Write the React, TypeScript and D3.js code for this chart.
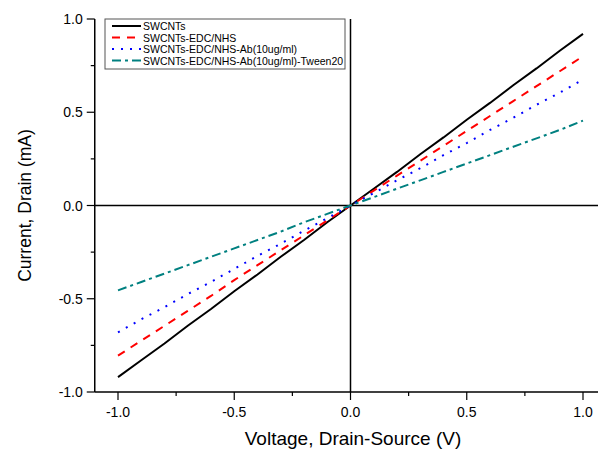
import React from "react";
import * as d3 from "d3";

const voltage = [-1.0, -0.9, -0.8, -0.7, -0.6, -0.5, -0.4, -0.3, -0.2, -0.1, 0, 0.1, 0.2, 0.3, 0.4, 0.5, 0.6, 0.7, 0.8, 0.9, 1.0];
const swcnts = [-0.92, -0.83, -0.74, -0.645, -0.555, -0.46, -0.37, -0.275, -0.185, -0.09, 0, 0.09, 0.18, 0.275, 0.365, 0.46, 0.55, 0.645, 0.735, 0.83, 0.92];
const edcNhs = [-0.805, -0.725, -0.645, -0.565, -0.485, -0.4, -0.32, -0.24, -0.16, -0.08, 0, 0.08, 0.16, 0.24, 0.32, 0.4, 0.48, 0.56, 0.64, 0.72, 0.8];
const ab = [-0.68, -0.61, -0.545, -0.475, -0.41, -0.34, -0.27, -0.205, -0.135, -0.068, 0, 0.067, 0.135, 0.2, 0.27, 0.335, 0.405, 0.47, 0.54, 0.605, 0.675];
const tween = [-0.455, -0.41, -0.365, -0.32, -0.275, -0.23, -0.185, -0.14, -0.09, -0.045, 0, 0.045, 0.09, 0.135, 0.18, 0.225, 0.27, 0.315, 0.36, 0.405, 0.455];
const seriesNames = ["SWCNTs", "SWCNTs-EDC/NHS", "SWCNTs-EDC/NHS-Ab(10ug/ml)", "SWCNTs-EDC/NHS-Ab(10ug/ml)-Tween20"];
const xTicks = [-1.0, -0.5, 0.0, 0.5, 1.0];
const yTicks = [-1.0, -0.5, 0.0, 0.5, 1.0];
const minorTicks = [-0.75, -0.25, 0.25, 0.75];

const styles = [
  { color: "#000000", dash: "none", width: 2 },
  { color: "#ff0000", dash: "8,7", width: 2 },
  { color: "#0000ff", dash: "2,7", width: 2 },
  { color: "#008080", dash: "9,4,3,4", width: 2 },
];

export default function App() {
  const W = 598, H = 450;
  const x = d3.scaleLinear().domain([-1.0, 1.0]).range([118, 583]);
  const y = d3.scaleLinear().domain([-1.0, 1.0]).range([392, 19]);
  const xLeft = x(-1.1);
  const xRight = x(1.1);
  const line = d3.line<number>().x((_, i) => x(voltage[i])).y((d) => y(d));
  const all = [swcnts, edcNhs, ab, tween];
  const font = "Arial, 'Liberation Sans', sans-serif";

  return (
    <svg width={W} height={H} style={{ position: "absolute", left: 0, top: 0, background: "#fff" }} fontFamily={font}>
      <rect x={0} y={0} width={W} height={H} fill="#fff" />
      {/* zero lines */}
      <line x1={x(0)} x2={x(0)} y1={y(1)} y2={y(-1)} stroke="#000" strokeWidth={1.5} />
      <line x1={xLeft} x2={xRight} y1={y(0)} y2={y(0)} stroke="#000" strokeWidth={1.5} />
      {/* axes */}
      <line x1={xLeft} x2={xLeft} y1={y(1)} y2={y(-1)} stroke="#000" strokeWidth={1.5} />
      <line x1={xLeft} x2={xRight} y1={y(-1)} y2={y(-1)} stroke="#000" strokeWidth={1.5} />
      {xTicks.map((t) => (
        <g key={"xt" + t}>
          <line x1={x(t)} x2={x(t)} y1={y(-1)} y2={y(-1) + 8} stroke="#000" strokeWidth={1.2} />
          <text x={x(t)} y={y(-1) + 25} fontSize={14} textAnchor="middle">{t.toFixed(1)}</text>
        </g>
      ))}
      {minorTicks.map((t) => (
        <line key={"xm" + t} x1={x(t)} x2={x(t)} y1={y(-1)} y2={y(-1) + 4} stroke="#000" strokeWidth={1.2} />
      ))}
      {yTicks.map((t) => (
        <g key={"yt" + t}>
          <line x1={xLeft - 8} x2={xLeft} y1={y(t)} y2={y(t)} stroke="#000" strokeWidth={1.2} />
          <text x={xLeft - 12} y={y(t) + 5} fontSize={14} textAnchor="end">{t.toFixed(1)}</text>
        </g>
      ))}
      {minorTicks.map((t) => (
        <line key={"ym" + t} x1={xLeft - 4} x2={xLeft} y1={y(t)} y2={y(t)} stroke="#000" strokeWidth={1.2} />
      ))}
      <text x={353} y={445} fontSize={19} textAnchor="middle">Voltage, Drain-Source (V)</text>
      <text transform={`translate(31,${y(0)}) rotate(-90)`} fontSize={17.5} textAnchor="middle">Current, Drain (mA)</text>
      {/* series */}
      {all.map((s, i) => (
        <path key={"s" + i} d={line(s) || ""} fill="none" stroke={styles[i].color} strokeWidth={styles[i].width} strokeDasharray={styles[i].dash} />
      ))}
      {/* legend */}
      <rect x={105} y={19} width={240} height={50} fill="#fff" stroke="#555" strokeWidth={1} />
      {seriesNames.map((n, i) => (
        <g key={"l" + i}>
          <line x1={112} x2={141} y1={26 + i * 11.5} y2={26 + i * 11.5} stroke={styles[i].color} strokeWidth={2} strokeDasharray={styles[i].dash} />
          <text x={143} y={30 + i * 11.5} fontSize={10.5}>{n}</text>
        </g>
      ))}
    </svg>
  );
}
